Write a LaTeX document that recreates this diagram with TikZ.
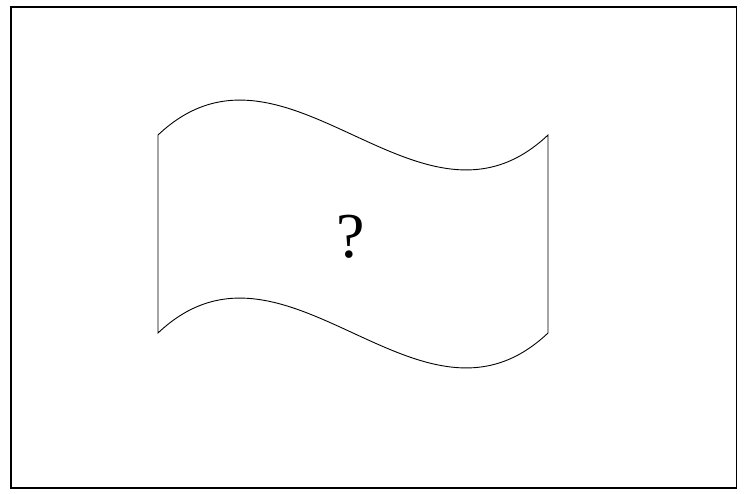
\documentclass[tikz,border=0pt]{standalone}
\usepackage{fontspec}
\setmainfont{Liberation Serif}
\begin{document}
\begin{tikzpicture}[x=1pt,y=-1pt,
  frame/.style={draw=black,line width=1.6pt},
  tapeline/.style={draw=black,line width=0.9pt,line join=miter},
  label/.style={font=\fontsize{64}{70}\selectfont,inner sep=0pt}]
\useasboundingbox (0,0) rectangle (746,493);
\draw[frame] (11,7) rectangle (736.5,488);
\coordinate (tl) at (158,135);
\coordinate (tr) at (548,135);
\coordinate (br) at (548,333);
\coordinate (bl) at (158,333);
\draw[tapeline] (tl) .. controls (286,14) and (420,256) .. (tr)
  -- (br) .. controls (420,454) and (286,212) .. (bl) -- cycle;
\node[label] (q) at (351,237) {?};
\end{tikzpicture}
\end{document}
